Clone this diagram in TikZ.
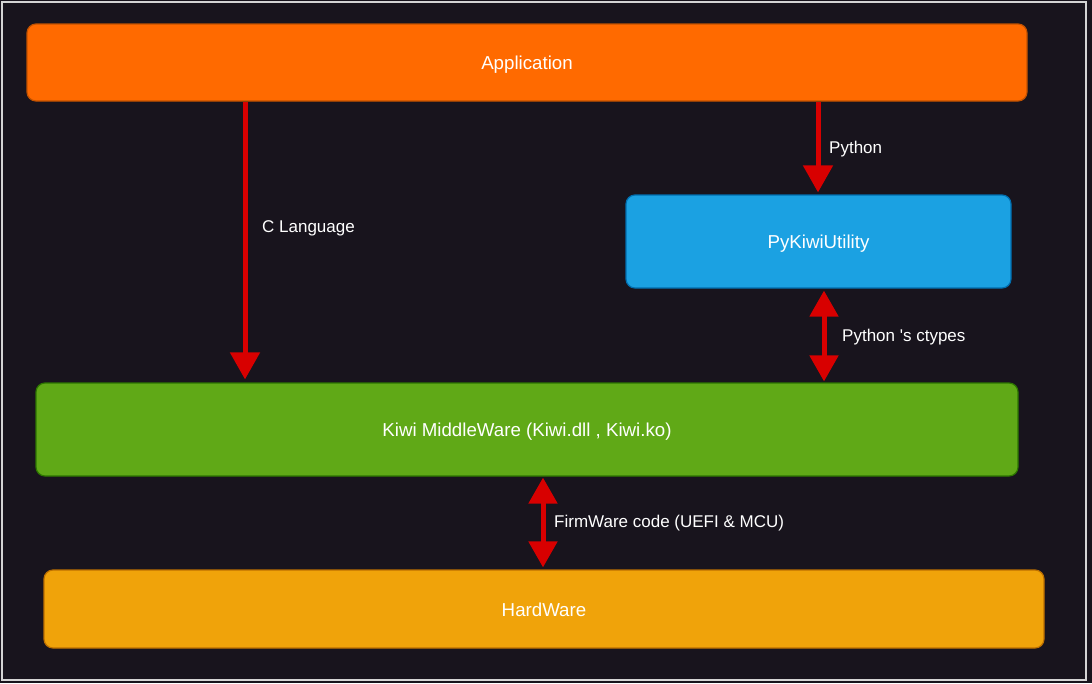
\documentclass[tikz,border=0pt]{standalone}
\usepackage{fontspec}
\setmainfont{Liberation Sans}
\usetikzlibrary{arrows.meta}
\definecolor{bgc}{HTML}{18141D}
\definecolor{framec}{HTML}{D4D4D4}
\definecolor{appfill}{HTML}{FF6A00}
\definecolor{appdraw}{HTML}{C25200}
\definecolor{pyfill}{HTML}{1BA1E2}
\definecolor{pydraw}{HTML}{006EAF}
\definecolor{mwfill}{HTML}{60A917}
\definecolor{mwdraw}{HTML}{2D7600}
\definecolor{hwfill}{HTML}{F0A30A}
\definecolor{hwdraw}{HTML}{BD7000}
\definecolor{arrc}{HTML}{D80000}
\newcommand{\straightquote}{\XeTeXglyph\numexpr\XeTeXcharglyph"27\relax}
\newcommand{\boxtext}[1]{\raisebox{-7pt}[0pt][0pt]{#1}}
\tikzset{
  layerbox/.style={rectangle, rounded corners=9pt, line width=1.2pt, text=white, font=\fontsize{18.7}{22}\selectfont, inner sep=0pt},
  conn/.style={draw=arrc, line width=5pt},
  onehead/.style={conn, -{Triangle[length=27pt,width=29pt]}},
  twohead/.style={conn, {Triangle[length=26pt,width=28pt]}-{Triangle[length=26pt,width=28pt]}},
  lbl/.style={anchor=west, text=white, font=\fontsize{17}{20}\selectfont, inner sep=0pt, yshift=-2pt}
}
\begin{document}
\begin{tikzpicture}[x=1pt,y=-1pt]
\useasboundingbox (0,0) rectangle (1092,683);
\fill[bgc] (0,0) rectangle (1092,683);
\draw[framec, line width=1.6pt] (2,2) rectangle (1086,680);

\node[layerbox, fill=appfill, draw=appdraw, minimum width=1000pt, minimum height=77pt] (app) at (527,62.5) {\boxtext{Application}};
\node[layerbox, fill=pyfill, draw=pydraw, minimum width=385pt, minimum height=93pt] (py) at (818.5,241.5) {\boxtext{PyKiwiUtility}};
\node[layerbox, fill=mwfill, draw=mwdraw, minimum width=982pt, minimum height=93pt] (mw) at (527,429.5) {\boxtext{Kiwi MiddleWare (Kiwi.dll , Kiwi.ko)}};
\node[layerbox, fill=hwfill, draw=hwdraw, minimum width=1000pt, minimum height=78pt] (hw) at (544,609) {\boxtext{HardWare}};

\coordinate (xc) at (245,0);
\coordinate (xp) at (818,0);
\coordinate (xt) at (824,0);
\coordinate (xf) at (543,0);

\draw[onehead, shorten >=3pt] (app.south -| xc) -- (mw.north -| xc);
\draw[onehead, shorten >=2pt] (app.south -| xp) -- (py.north -| xp);
\draw[twohead, shorten <=2pt, shorten >=1pt] (py.south -| xt) -- (mw.north -| xt);
\draw[twohead, shorten <=1pt, shorten >=2pt] (mw.south -| xf) -- (hw.north -| xf);

\node[lbl] (lc) at (262,226) {C Language};
\node[lbl] (lp) at (829,147) {Python};
\node[lbl] (lt) at (842,335) {Python \straightquote s ctypes};
\node[lbl] (lf) at (554,521) {FirmWare code (UEFI \& MCU)};
\end{tikzpicture}
\end{document}
